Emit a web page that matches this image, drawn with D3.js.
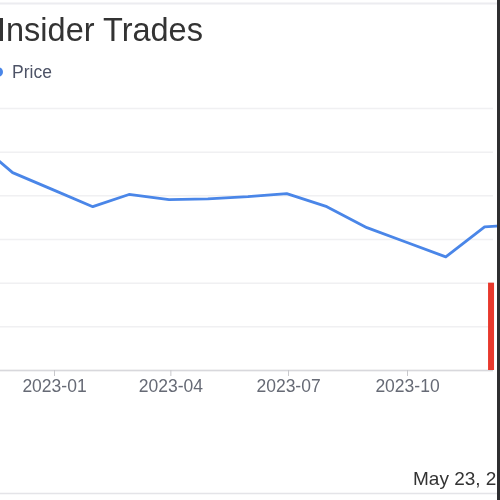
<!doctype html>
<html lang="en">
<head>
  <meta charset="utf-8">
  <title>Insider Trades</title>
  <script src="https://cdn.jsdelivr.net/npm/d3@7"></script>
  <style>
    html, body { margin: 0; padding: 0; background: #fff; }
    svg { display: block; font-family: "Liberation Sans", Arial, sans-serif; filter: blur(0.45px); }
  </style>
</head>
<body>
  <svg id="chart" width="500" height="500"></svg>
  <script>
    // price series, month ends
    const priceDates = ["2022-10-31", "2022-11-30", "2022-12-31", "2023-01-31", "2023-02-28",
      "2023-03-31", "2023-04-30", "2023-05-31", "2023-06-30", "2023-07-31", "2023-08-31",
      "2023-09-30", "2023-10-31", "2023-11-30", "2023-12-31"];
    const priceValues = [52.8, 45.2, 41.3, 37.4, 40.2, 39.0, 39.2, 39.7, 40.4, 37.4, 32.6,
      29.3, 25.9, 32.8, 33.3];

    // insider trades (bars)
    const tradeDates = ["2023-12-05"];
    const tradeValues = [2];

    const priceTicks = [0, 10, 20, 30, 40, 50, 60];
    const xTickFormat = "%Y-%m";

    const parse = d3.timeParse("%Y-%m-%d");
    const svg = d3.select("#chart");

    // the picture is a crop of a bigger chart, so the scales run past the edges
    const x = d3.scaleTime()
      .domain([new Date(2023, 0, 1), new Date(2023, 9, 1)])
      .range([54, 407]);
    const y = d3.scaleLinear().domain([0, 60]).range([370, 108]);
    const yTrade = d3.scaleLinear().domain([0, 6]).range([370, 108]);

    // frame bits of the screenshot
    svg.append("line").attr("x1", 0).attr("x2", 500).attr("y1", 3.5).attr("y2", 3.5)
      .attr("stroke", "#ececf0").attr("stroke-width", 2);
    svg.append("line").attr("x1", 0).attr("x2", 500).attr("y1", 493.5).attr("y2", 493.5)
      .attr("stroke", "#e4e4e8").attr("stroke-width", 1.5);

    // title + legend
    svg.append("text").attr("x", -3).attr("y", 41)
      .attr("font-size", 32.5).attr("fill", "#333")
      .text("Insider Trades");
    svg.append("circle").attr("cx", -2).attr("cy", 72).attr("r", 5).attr("fill", "#4a86e8");
    svg.append("text").attr("x", 12).attr("y", 78)
      .attr("font-size", 17.5).attr("fill", "#4d5366")
      .text("Price");

    // grid
    svg.append("g")
      .attr("transform", "translate(493,0)")
      .call(d3.axisLeft(y).tickValues(priceTicks).tickSize(493).tickFormat(""))
      .call(g => g.select(".domain").remove())
      .call(g => g.selectAll(".tick line").attr("stroke", "#f0f0f2").attr("stroke-width", 1.5));

    // x axis
    const xAxis = svg.append("g")
      .attr("transform", "translate(0,370)")
      .call(d3.axisBottom(x).ticks(d3.timeMonth.every(3)).tickFormat(d3.timeFormat(xTickFormat))
        .tickSize(6).tickPadding(4).tickSizeOuter(0));
    xAxis.select(".domain").attr("d", "M0,0.5H493").attr("stroke", "#d8d8dc").attr("stroke-width", 1.5);
    xAxis.selectAll(".tick line").attr("stroke", "#c8c8cc");
    xAxis.selectAll(".tick text")
      .attr("font-size", 17.5).attr("fill", "#666a75")
      .attr("font-family", "\"Liberation Sans\", Arial, sans-serif");

    // price line
    const priceData = priceDates.map((d, i) => ({ date: parse(d), value: priceValues[i] }));
    svg.append("path")
      .datum(priceData)
      .attr("fill", "none")
      .attr("stroke", "#4a86e8")
      .attr("stroke-width", 2.8)
      .attr("stroke-linejoin", "round")
      .attr("d", d3.line().x(d => x(d.date)).y(d => y(d.value)));

    // trade bars
    svg.selectAll(".bar")
      .data(tradeDates.map((d, i) => ({ date: parse(d), value: tradeValues[i] })))
      .enter()
      .append("rect")
      .attr("class", "bar")
      .attr("x", d => x(d.date) - 3)
      .attr("width", 6)
      .attr("y", d => yTrade(d.value))
      .attr("height", d => yTrade(0) - yTrade(d.value))
      .attr("fill", "#e8382c");

    // date stamp bottom right
    svg.append("text").attr("x", 413).attr("y", 485)
      .attr("font-size", 19).attr("fill", "#333")
      .text("May 23, 2024");

    // dark right edge
    svg.append("rect").attr("x", 497).attr("y", 0).attr("width", 3).attr("height", 500)
      .attr("fill", "#2e2e30");
  </script>
</body>
</html>
